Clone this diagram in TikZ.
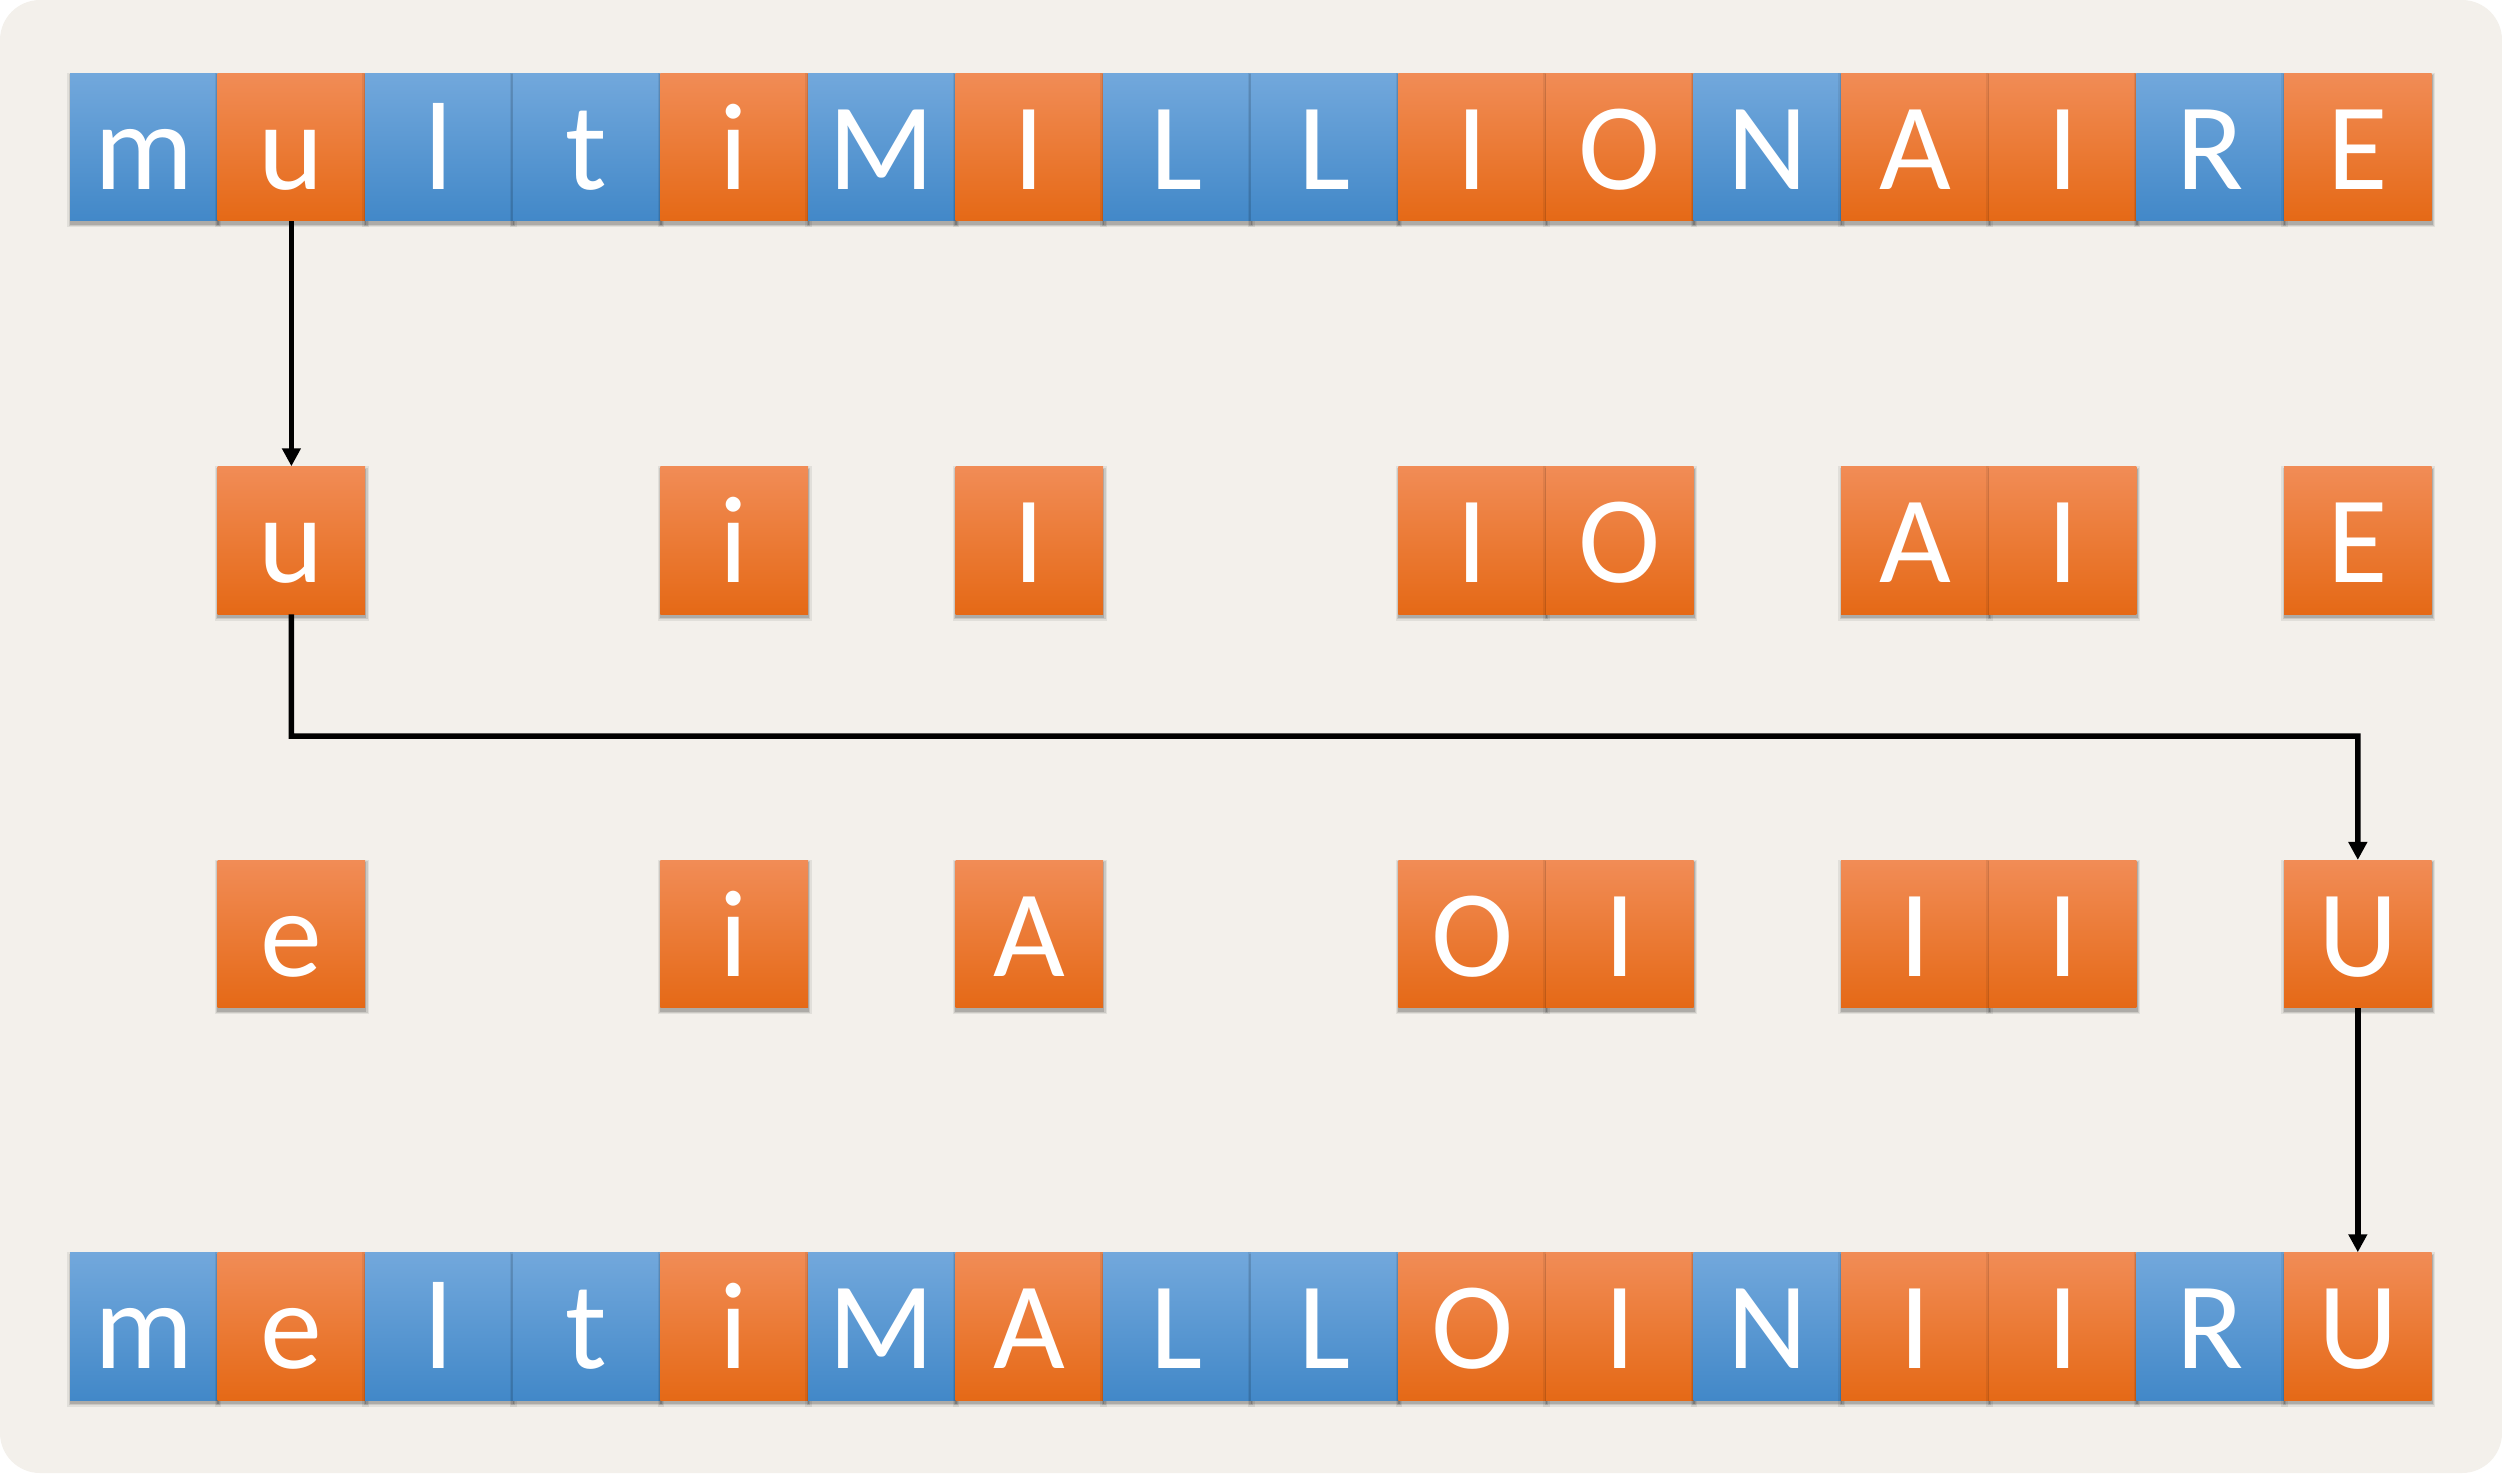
\documentclass[tikz,border=0pt]{standalone}
\usepackage{fontspec}
\setmainfont{Carlito}
\usetikzlibrary{arrows.meta,shadows}
\definecolor{bgc}{RGB}{243,240,235}
\definecolor{otop}{RGB}{241,140,86}
\definecolor{omid}{RGB}{244,126,42}
\definecolor{obot}{RGB}{229,105,22}
\definecolor{btop}{RGB}{114,168,220}
\definecolor{bmid}{RGB}{91,155,213}
\definecolor{bbot}{RGB}{66,136,200}
\tikzset{
  cell/.style={minimum width=147.6pt, minimum height=147.7pt, inner sep=0pt,
    text height=100pt, text depth=16pt, text=white,
    font=\fontsize{124}{124}\selectfont,
    general shadow={fill=black, opacity=0.07, shadow scale=1.045, shadow yshift=-3pt, shadow xshift=0.5pt},
    general shadow={fill=black, opacity=0.10, shadow scale=1.025, shadow yshift=-3pt, shadow xshift=0.5pt},
    general shadow={fill=black, opacity=0.14, shadow scale=1.01, shadow yshift=-3pt, shadow xshift=0.5pt}},
  ocell/.style={cell, top color=otop, middle color=omid, bottom color=obot},
  bcell/.style={cell, top color=btop, middle color=bmid, bottom color=bbot},
  link/.style={line width=5.5pt, line join=miter, -{Triangle[width=18pt,length=18pt]}}
}
\begin{document}
\begin{tikzpicture}[x=1pt,y=-1pt]
\useasboundingbox (0,0) rectangle (2502,1473);
\fill[bgc, rounded corners=40pt] (0,0) rectangle (2502,1473);
% row 1
\foreach \l/\s [count=\i from 0] in {m/b,u/o,l/b,t/b,i/o,M/b,I/o,L/b,L/b,I/o,O/o,N/b,A/o,I/o,R/b,E/o}{
  \node[\s cell] (a\i) at ({143.8+147.6*\i},147) {\l};
}
% row 2
\foreach \l/\c in {u/1,i/4,I/6,I/9,O/10,A/12,I/13,E/15}{
  \node[ocell] (b\c) at ({143.8+147.6*\c},540.3) {\l};
}
% row 3
\foreach \l/\c in {e/1,i/4,A/6,O/9,I/10,I/12,I/13,U/15}{
  \node[ocell] (c\c) at ({143.8+147.6*\c},934) {\l};
}
% row 4
\foreach \l/\s [count=\i from 0] in {m/b,e/o,l/b,t/b,i/o,M/b,A/o,L/b,L/b,O/o,I/o,N/b,I/o,I/o,R/b,U/o}{
  \node[\s cell] (d\i) at ({143.8+147.6*\i},1326.3) {\l};
}
\coordinate (k1) at (291.4,736);
\draw[link] (a1.south) -- (b1.north);
\draw[link] (b1.south) -- (k1) -| (c15.north);
\draw[link] (c15.south) -- (d15.north);
\end{tikzpicture}
\end{document}
